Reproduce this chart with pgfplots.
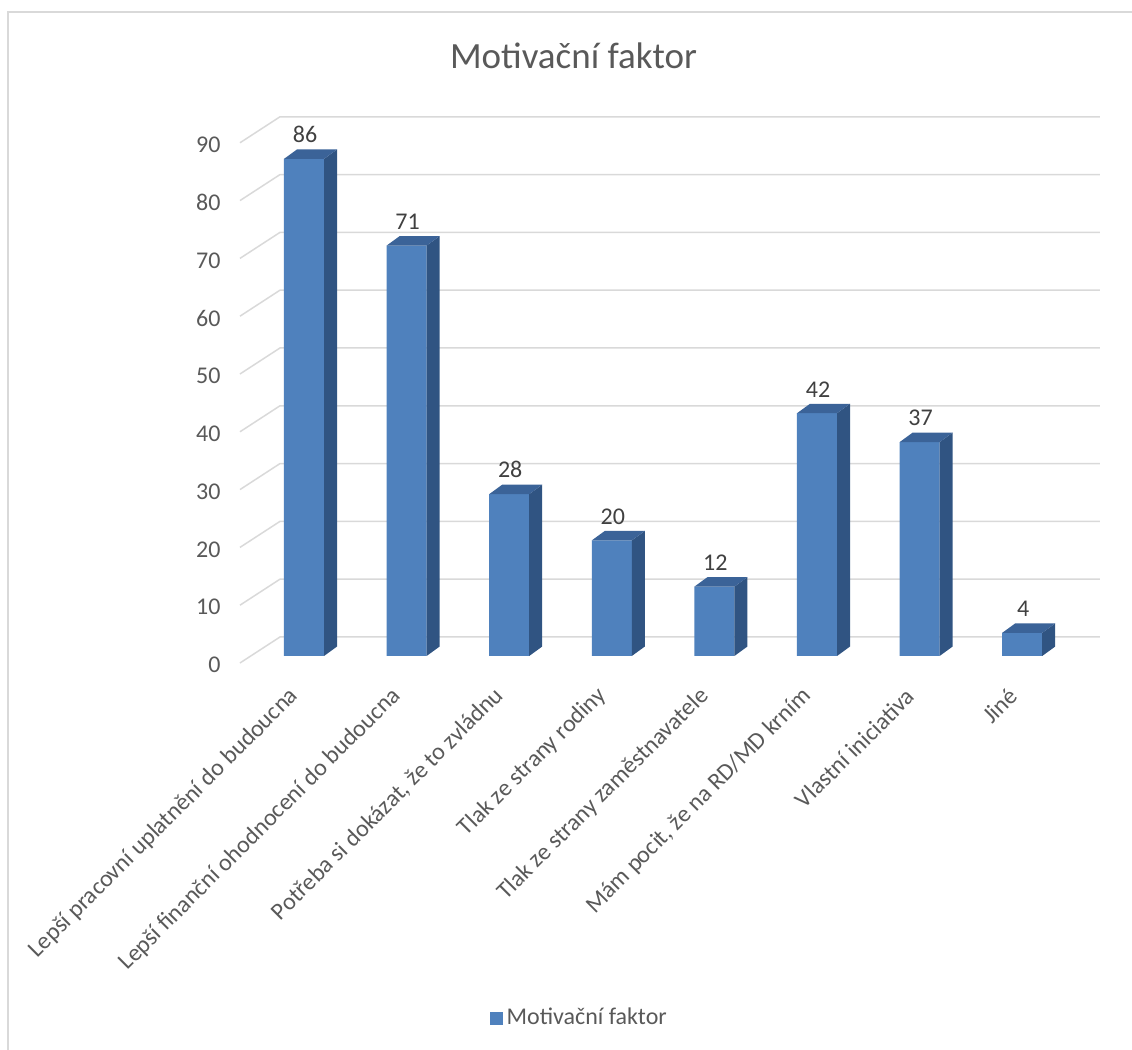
\documentclass[border=0pt]{standalone}
\usepackage{fontspec}
\setmainfont{Carlito}
\usepackage{pgfplots}
\usepackage{pgfplotstable}
\pgfplotsset{compat=1.18}
\definecolor{frontc}{HTML}{4F81BD}
\definecolor{sidec}{HTML}{305482}
\definecolor{topc}{HTML}{3B6398}
\definecolor{gridc}{HTML}{D9D9D9}
\definecolor{txt}{HTML}{595959}
\definecolor{dtxt}{HTML}{404040}
\pgfplotstableread{
x v
0 86
1 71
2 28
3 20
4 12
5 42
6 37
7 4
}\data
\begin{document}
\begin{tikzpicture}
\useasboundingbox (0,0) rectangle (566pt,525pt);
\draw[gridc, line width=0.75pt] (4pt,0) -- (4pt,519pt) -- (566pt,519pt);
\node[anchor=base, text=txt, font=\fontsize{18.5}{22}\selectfont, inner sep=0pt] at (286.75pt,490.5pt) {Motivační faktor};
\begin{axis}[
  at={(126.35pt,197pt)}, anchor=south west,
  x=51.3pt, y=2.89pt,
  xmin=-0.5, xmax=7.5, ymin=0, ymax=90,
  clip=false,
  axis line style={draw=none},
  tick style={draw=none},
  major tick length=0pt,
  /pgf/number format/assume math mode=true,
  ytick={0,10,...,90},
  xtick={0,...,7},
  xticklabels={{Lepší pracovní uplatnění do budoucna},{Lepší finanční ohodnocení do budoucna},{Potřeba si dokázat, že to zvládnu},{Tlak ze strany rodiny},{Tlak ze strany zaměstnavatele},{Mám pocit, že na RD/MD krním},{Vlastní iniciativa},{Jiné}},
  yticklabel style={font=\fontsize{12}{14}\selectfont, text=txt, anchor=east, inner sep=0pt, xshift=-15.9pt, yshift=-4.5pt},
  xticklabel style={font=\fontsize{12}{14}\selectfont, text=txt, inner sep=0pt, xshift=-4.5pt, yshift=-18pt, rotate=45, anchor=east},
  legend style={at={(0.399,-0.696)}, anchor=center, draw=none, fill=none, font=\fontsize{12}{14}\selectfont, text=txt},
  legend image code/.code={\fill[frontc] (0pt,-3.25pt) rectangle (6.5pt,3.25pt);},
]
\pgfplotsinvokeforeach{0,10,...,90}{
  \pgfmathsetmacro\ga{#1-1.21}
  \pgfmathsetmacro\gb{#1+3.29}
  \edef\temp{\noexpand\addplot[gridc, line width=0.75pt, forget plot] coordinates {(-0.624,\ga) (-0.234,\gb) (7.758,\gb)};}
  \temp
}
\addplot[ybar, bar width=0.39, fill=frontc, draw=none,
  nodes near coords,
  every node near coord/.append style={font=\fontsize{12}{14}\selectfont, text=dtxt, anchor=south, yshift=4.5pt, xshift=0.5pt}]
  table[x=x, y=v] {\data};
\addlegendentry{Motivační faktor}
\pgfplotsforeachungrouped \i in {0,1,2,3,4,5,6,7}{
  \pgfplotstablegetelem{\i}{x}\of\data \let\bx\pgfplotsretval
  \pgfplotstablegetelem{\i}{v}\of\data \let\bv\pgfplotsretval
  \pgfmathsetmacro\xa{\bx+0.195}
  \pgfmathsetmacro\xb{\bx+0.322}
  \pgfmathsetmacro\xc{\bx-0.195}
  \pgfmathsetmacro\xd{\bx-0.068}
  \pgfmathsetmacro\vt{\bv+1.64}
  \edef\temp{\noexpand\addplot[fill=sidec, draw=none, forget plot] coordinates {(\xa,0) (\xa,\bv) (\xb,\vt) (\xb,1.64)} -- cycle;
  \noexpand\addplot[fill=topc, draw=none, forget plot] coordinates {(\xc,\bv) (\xd,\vt) (\xb,\vt) (\xa,\bv)} -- cycle;}
  \temp
}
\end{axis}
\end{tikzpicture}
\end{document}
